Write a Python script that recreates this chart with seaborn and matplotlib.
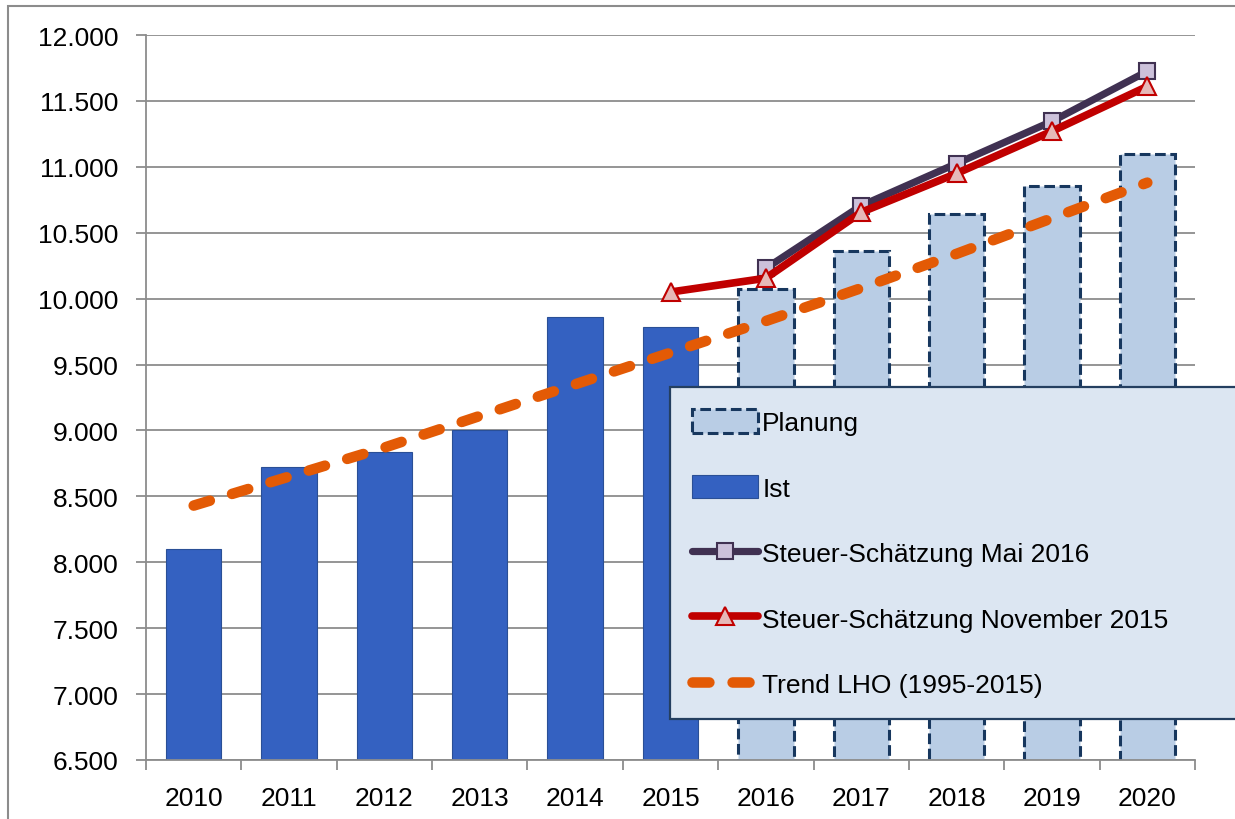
import matplotlib
matplotlib.use('Agg')
import matplotlib.pyplot as plt
import seaborn as sns
import pandas as pd
from matplotlib.patches import Patch, Rectangle
from matplotlib.lines import Line2D
from matplotlib.ticker import FuncFormatter, MultipleLocator, FixedLocator

years = [2010, 2011, 2012, 2013, 2014, 2015, 2016, 2017, 2018, 2019, 2020]

# Ist-Werte 2010-2015, Planung 2016-2020
ist_years = [2010, 2011, 2012, 2013, 2014, 2015]
ist_values = [8100, 8720, 8835, 9000, 9860, 9785]
plan_years = [2016, 2017, 2018, 2019, 2020]
plan_values = [10075, 10360, 10640, 10855, 11095]

# Steuerschaetzungen
mai_years = [2016, 2017, 2018, 2019, 2020]
mai_values = [10230, 10705, 11025, 11345, 11725]
nov_years = [2015, 2016, 2017, 2018, 2019, 2020]
nov_values = [10050, 10155, 10655, 10950, 11270, 11610]

# Trend LHO (1995-2015)
trend_values = [8430, 8650, 8870, 9110, 9350, 9590, 9830, 10080, 10340, 10610, 10880]

ist_color = '#3461C1'
plan_color = '#B9CDE5'
plan_edge = '#17375E'
mai_color = '#403152'
nov_color = '#C00000'
trend_color = '#E35A05'
grid_color = '#8C8C8C'

sns.set_theme(style='white')
plt.rcParams['font.family'] = ['Liberation Sans', 'DejaVu Sans']
plt.rcParams['text.color'] = 'black'

fig = plt.figure(figsize=(12.35, 8.2), dpi=100)
ax = fig.add_axes([146 / 1235, 59 / 820, 1049 / 1235, 725 / 820])

pos = {y: i for i, y in enumerate(years)}

df_ist = pd.DataFrame({'Jahr': ist_years, 'Wert': ist_values})
df_plan = pd.DataFrame({'Jahr': plan_years, 'Wert': plan_values})

sns.barplot(data=df_ist, x='Jahr', y='Wert', order=years, color=ist_color,
            width=0.58, saturation=1, edgecolor='#2A4F96', linewidth=0.8,
            ax=ax, zorder=2)
sns.barplot(data=df_plan, x='Jahr', y='Wert', order=years, color=plan_color,
            width=0.58, saturation=1, edgecolor=plan_edge, linewidth=2.2,
            linestyle=(0, (3.5, 1.5)), ax=ax, zorder=2)

# Trendlinie
ax.plot([pos[y] for y in years], trend_values, color=trend_color, lw=7.6,
        dashes=(1.6, 2.2), dash_capstyle='round', zorder=3)

# Steuer-Schaetzung Mai 2016
ax.plot([pos[y] for y in mai_years], mai_values, color=mai_color, lw=5.2,
        marker='s', markersize=11, markerfacecolor='#CCC1DA',
        markeredgecolor=mai_color, markeredgewidth=1.5, zorder=4)
# Steuer-Schaetzung November 2015
ax.plot([pos[y] for y in nov_years], nov_values, color=nov_color, lw=5.5,
        marker='^', markersize=13, markerfacecolor='#E6B9B8',
        markeredgecolor=nov_color, markeredgewidth=1.5, zorder=5)

ax.set_xlim(-0.5, len(years) - 0.5)
ax.set_ylim(6500, 12000)
ax.yaxis.set_major_locator(MultipleLocator(500))
ax.yaxis.set_major_formatter(FuncFormatter(lambda v, p: f'{v:,.0f}'.replace(',', '.')))
ax.grid(axis='y', color=grid_color, lw=1.3, zorder=0)
ax.set_axisbelow(True)
ax.set_xlabel('')
ax.set_ylabel('')

ax.set_xticks(range(len(years)))
ax.set_xticklabels([str(y) for y in years])
ax.xaxis.set_minor_locator(FixedLocator([i - 0.5 for i in range(len(years) + 1)]))
ax.tick_params(axis='x', which='major', length=0, pad=19, labelsize=19, labelcolor='black')
ax.tick_params(axis='x', which='minor', length=7, width=1.3, color=grid_color, direction='out', bottom=True)
ax.tick_params(axis='y', which='major', length=7, width=1.3, color=grid_color, direction='out',
               pad=13, labelsize=19, labelcolor='black', left=True)

for side in ['top', 'right']:
    ax.spines[side].set_visible(False)
for side in ['left', 'bottom']:
    ax.spines[side].set_color(grid_color)
    ax.spines[side].set_linewidth(1.3)

# Legende
handles = [
    Patch(facecolor=plan_color, edgecolor=plan_edge, linewidth=2.2, linestyle=(0, (3.5, 1.5))),
    Patch(facecolor=ist_color, edgecolor='#2A4F96', linewidth=0.8),
    Line2D([0], [0], color=mai_color, lw=5.2, marker='s', markersize=11,
           markerfacecolor='#CCC1DA', markeredgecolor=mai_color, markeredgewidth=1.5,
           solid_capstyle='round'),
    Line2D([0], [0], color=nov_color, lw=5.5, marker='^', markersize=13,
           markerfacecolor='#E6B9B8', markeredgecolor=nov_color, markeredgewidth=1.5,
           solid_capstyle='round'),
    Line2D([0], [0], color=trend_color, lw=7.6, dashes=(1.6, 2.2), dash_capstyle='round'),
]
labels = ['Planung', 'Ist', 'Steuer-Schätzung Mai 2016',
          'Steuer-Schätzung November 2015', 'Trend LHO (1995-2015)']
leg = fig.legend(handles, labels, loc='upper left',
                 bbox_to_anchor=(670 / 1235, 102 / 820, 620 / 1235, 330 / 820),
                 bbox_transform=fig.transFigure, mode='expand', fontsize=19,
                 labelcolor='black',
                 frameon=True, fancybox=False, facecolor='#DCE6F2', edgecolor='#243F60',
                 framealpha=1, borderpad=0.85, labelspacing=1.5, handlelength=2.5,
                 handleheight=1.0, handletextpad=0.15, borderaxespad=0)
leg.get_frame().set_linewidth(1.6)
leg.set_zorder(10)

# Rahmen um das Diagramm
fig.patches.append(Rectangle((8 / 1235, -0.1), 1.2, 1.1 - 7 / 820, transform=fig.transFigure,
                             fill=False, edgecolor='#8C8C8C', lw=1.5, zorder=0))

fig.savefig('out.png', dpi=100)
